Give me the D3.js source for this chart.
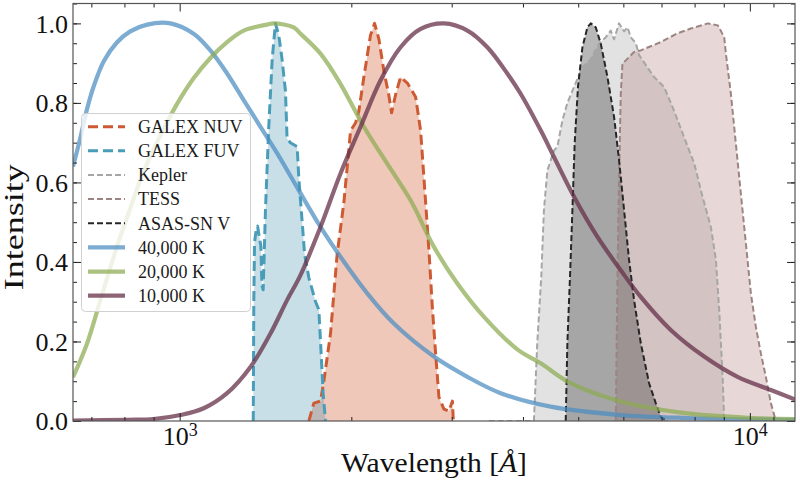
<!DOCTYPE html>
<html><head><meta charset="utf-8">
<script src="https://cdn.jsdelivr.net/npm/d3@7"></script>
<style>
html,body{margin:0;padding:0;background:#fff;}
svg{display:block;font-family:"Liberation Serif","DejaVu Serif",serif;}
</style></head>
<body><svg id="c" width="800" height="489"></svg>
<script>
// ---------- DATA ----------
const fuvWave = [1346,1349,1353,1362,1370,1380,1388,1394,1401,1414,1433,1453,1472,1492,1512,1533,1543,1564,1607,1618,1634,1656,1685,1731,1754,1766,1785,1802];
const fuvResp = [0,0.30,0.45,0.48,0.49,0.46,0.44,0.34,0.33,0.53,0.74,0.91,1.0,0.97,0.91,0.83,0.71,0.70,0.69,0.61,0.53,0.42,0.36,0.30,0.28,0.20,0.07,0];

const nuvWave = [1685,1719,1766,1790,1839,1889,1941,1994,2035,2062,2104,2161,2197,2236,2281,2327,2353,2391,2440,2508,2593,2646,2700,2736,2773,2811,2849,2907,2967,3008,3020];
const nuvResp = [0,0.045,0.05,0.10,0.22,0.42,0.55,0.73,0.75,0.78,0.865,0.97,1.0,0.96,0.88,0.82,0.775,0.82,0.865,0.85,0.815,0.73,0.55,0.43,0.29,0.17,0.06,0.03,0.025,0.05,0];

const keplerWave = [3483,4181,4238,4307,4353,4414,4534,4597,4691,4786,4916,5086,5260,5440,5588,5702,5779,5897,6018,6101,6183,6309,6394,6793,7073,7364,7667,7986,8260,8544,8719,8836,8959,9017];
const keplerResp = [0,0,0.196,0.363,0.53,0.63,0.68,0.69,0.756,0.80,0.84,0.89,0.91,0.949,0.965,0.982,0.96,1.0,0.98,0.99,0.965,0.95,0.92,0.865,0.84,0.78,0.714,0.648,0.564,0.488,0.405,0.279,0.111,0];

const tessWave = [5819,5859,5897,5938,5978,6060,6265,6437,6980,7467,7880,8441,8788,9017,9077,9262,9450,9643,9840,10041,10245,10455,10668,10886,11108];
const tessResp = [0,0.363,0.614,0.823,0.899,0.907,0.928,0.932,0.953,0.975,0.987,1.0,0.995,0.965,0.924,0.823,0.698,0.572,0.447,0.321,0.237,0.17,0.111,0.045,0];

const asasWave = [4754,4786,4837,4884,4929,4995,5086,5189,5260,5367,5477,5627,5779,5897,6018,6140,6265,6437,6657,6839,6980,7170];
const asasResp = [0,0.196,0.363,0.53,0.698,0.84,0.94,0.99,1.0,0.99,0.949,0.865,0.765,0.656,0.53,0.405,0.304,0.196,0.095,0.045,0.01,0];

const bb40Wave = [650,669,688,706,736,776,819,877,963,1058,1132,1211,1295,1386,1483,1618,1766,1914,2133,2375,2792,3196,3656,4474,5938,7776,12040];
const bb40Int  = [0.64,0.71,0.785,0.84,0.905,0.952,0.98,0.997,1.0,0.974,0.932,0.874,0.807,0.74,0.673,0.58,0.488,0.413,0.321,0.245,0.162,0.111,0.07,0.036,0.015,0.0075,0.003];

const bb20Wave = [650,688,726,766,809,865,925,989,1058,1132,1211,1295,1424,1462,1585,1629,1766,1914,2104,2312,2541,2792,3069,3418,3910,4297,4851,5938,7776,10162,12040];
const bb20Int  = [0.11,0.195,0.304,0.413,0.513,0.628,0.718,0.797,0.862,0.913,0.953,0.982,0.997,1.0,0.99,0.974,0.924,0.848,0.74,0.647,0.555,0.438,0.346,0.262,0.18,0.145,0.095,0.049,0.019,0.0075,0.005];

const bb10Wave = [650,809,900,1003,1102,1211,1331,1443,1543,1629,1766,1914,2076,2251,2440,2646,2907,3196,3464,3755,3963,4297,4534,4916,5404,5938,6437,7265,8316,9515,10886,12040];
const bb10Int  = [0.001,0.003,0.005,0.015,0.032,0.07,0.136,0.22,0.304,0.367,0.488,0.622,0.74,0.857,0.94,0.986,1.0,0.982,0.94,0.874,0.823,0.731,0.664,0.564,0.463,0.379,0.312,0.229,0.162,0.111,0.078,0.053];

const yTicks = [0,0.2,0.4,0.6,0.8,1.0];
const xMajor = [1000,10000];
const xMinor = [700,800,900,2000,3000,4000,5000,6000,7000,8000,9000,11000];
const legendLabels = ["GALEX NUV","GALEX FUV","Kepler","TESS","ASAS-SN V","40,000 K","20,000 K","10,000 K"];

// ---------- STYLES ----------
const filters = [
  {w:nuvWave, r:nuvResp, line:"#cd5a32", fill:"#d4603a", fo:0.35, sw:3, dash:"10,5"},
  {w:fuvWave, r:fuvResp, line:"#4a9db8", fill:"#4a96b4", fo:0.30, sw:3, dash:"10,5"},
  {w:keplerWave, r:keplerResp, line:"#a6a6a6", fill:"#a8a8a8", fo:0.33, sw:2, dash:"6,3"},
  {w:tessWave, r:tessResp, line:"#9c8482", fill:"#ae7e7a", fo:0.30, sw:2, dash:"6,3"},
  {w:asasWave, r:asasResp, line:"#262626", fill:"#444444", fo:0.38, sw:2, dash:"6,3"}
];
const bbs = [
  {w:bb40Wave, v:bb40Int, c:"#4a8cc0", o:0.72},
  {w:bb20Wave, v:bb20Int, c:"#8caa50", o:0.72},
  {w:bb10Wave, v:bb10Int, c:"#663048", o:0.75}
];

const svg = d3.select("#c");
const L=73, R=795, T=3.5, B=421;
const x = d3.scaleLog().domain([650,12000]).range([L,R]);
const y = d3.scaleLinear().domain([0,1.05]).range([B,T]);

svg.append("defs").append("clipPath").attr("id","clip")
  .append("rect").attr("x",L).attr("y",T).attr("width",R-L).attr("height",B-T);
const plot = svg.append("g").attr("clip-path","url(#clip)");

filters.forEach(f=>{
  const pts = f.w.map((w,i)=>[w,f.r[i]]);
  plot.append("path").datum(pts)
    .attr("d", d3.area().x(d=>x(d[0])).y0(y(0)).y1(d=>y(d[1])))
    .attr("fill", f.fill).attr("fill-opacity", f.fo);
});
filters.forEach(f=>{
  const pts = f.w.map((w,i)=>[w,f.r[i]]);
  plot.append("path").datum(pts)
    .attr("d", d3.line().x(d=>x(d[0])).y(d=>y(d[1])))
    .attr("fill","none").attr("stroke",f.line).attr("stroke-width",f.sw)
    .attr("stroke-dasharray",f.dash).attr("stroke-linejoin","round");
});
bbs.forEach(b=>{
  const pts = b.w.map((w,i)=>[w,b.v[i]]);
  plot.append("path").datum(pts)
    .attr("d", d3.line().x(d=>x(d[0])).y(d=>y(d[1])).curve(d3.curveCatmullRom.alpha(0.5)))
    .attr("fill","none").attr("stroke",b.c).attr("stroke-width",4.2)
    .attr("stroke-opacity",b.o);
});

// legend
const lg = svg.append("g");
lg.append("rect").attr("x",81.5).attr("y",113.5).attr("width",169).attr("height",198)
  .attr("rx",4).attr("fill","#fff").attr("fill-opacity",0.8).attr("stroke","#d0d0d0").attr("stroke-width",1);
const items = [
  ...filters.map(f=>({c:f.line, sw:f.sw, dash:f.dash, o:1})),
  ...bbs.map(b=>({c:b.c, sw:4.2, dash:null, o:b.o}))
];
legendLabels.forEach((lab,i)=>{
  const yy = 126.7 + i*24.14;
  const it = items[i];
  lg.append("line").attr("x1",88).attr("x2",125).attr("y1",yy).attr("y2",yy)
    .attr("stroke",it.c).attr("stroke-width",it.sw).attr("stroke-opacity",it.o)
    .attr("stroke-dasharray",it.dash);
  lg.append("text").attr("x",138).attr("y",yy).attr("dy","0.35em")
    .attr("font-size","18px").attr("fill","#1a1a1a").text(lab);
});

// axes
const axG = svg.append("g");
function style(g){
  g.select(".domain").remove();
  g.selectAll(".tick line").attr("stroke","#222").attr("stroke-width",1);
  g.selectAll("text").attr("font-family","'Liberation Serif',serif").attr("fill","#111");
}
axG.append("g").attr("transform",`translate(${L},0)`)
  .call(d3.axisLeft(y).tickValues(yTicks).tickSize(-8).tickSizeOuter(0).tickPadding(5).tickFormat(d3.format(".1f")))
  .call(style).selectAll("text").attr("font-size","26px").attr("dy","0.34em");
axG.append("g").attr("transform",`translate(${L},0)`)
  .call(d3.axisLeft(y).ticks(21).tickSize(-4).tickSizeOuter(0).tickFormat(""))
  .call(style);
axG.append("g").attr("transform",`translate(${R},0)`)
  .call(d3.axisRight(y).tickValues(yTicks).tickSize(-8).tickSizeOuter(0).tickFormat(""))
  .call(style);
axG.append("g").attr("transform",`translate(${R},0)`)
  .call(d3.axisRight(y).ticks(21).tickSize(-4).tickSizeOuter(0).tickFormat(""))
  .call(style);
const bx = axG.append("g").attr("transform",`translate(0,${B})`)
  .call(d3.axisBottom(x).tickValues(xMajor).tickSize(-8).tickSizeOuter(0).tickPadding(6).tickFormat(""))
  .call(style);
bx.selectAll(".tick").each(function(d){
  const t = d3.select(this).select("text");
  t.attr("font-size","26px").attr("dy","0.71em").text("10");
  t.append("tspan").attr("dy","-0.5em").attr("font-size","18px").text(Math.round(Math.log10(d)));
});
axG.append("g").attr("transform",`translate(0,${B})`)
  .call(d3.axisBottom(x).tickValues(xMinor).tickSize(-4).tickSizeOuter(0).tickFormat(""))
  .call(style);
axG.append("g").attr("transform",`translate(0,${T})`)
  .call(d3.axisTop(x).tickValues(xMajor).tickSize(-8).tickSizeOuter(0).tickFormat(""))
  .call(style);
axG.append("g").attr("transform",`translate(0,${T})`)
  .call(d3.axisTop(x).tickValues(xMinor).tickSize(-4).tickSizeOuter(0).tickFormat(""))
  .call(style);

svg.append("rect").attr("x",L).attr("y",T).attr("width",R-L).attr("height",B-T)
  .attr("fill","none").attr("stroke","#555").attr("stroke-width",1.2);

const xt = svg.append("text").attr("x",(L+R)/2).attr("y",472).attr("text-anchor","middle")
  .attr("font-size","27px").attr("fill","#111").attr("textLength",186).attr("lengthAdjust","spacingAndGlyphs");
xt.append("tspan").text("Wavelength [");
xt.append("tspan").attr("font-style","italic").text("Å");
xt.append("tspan").text("]");
svg.append("text").attr("transform",`translate(23,${(T+B)/2+15}) rotate(-90)`).attr("text-anchor","middle")
  .attr("font-size","27px").attr("fill","#111").attr("textLength",126).attr("lengthAdjust","spacingAndGlyphs")
  .text("Intensity");
</script></body></html>
